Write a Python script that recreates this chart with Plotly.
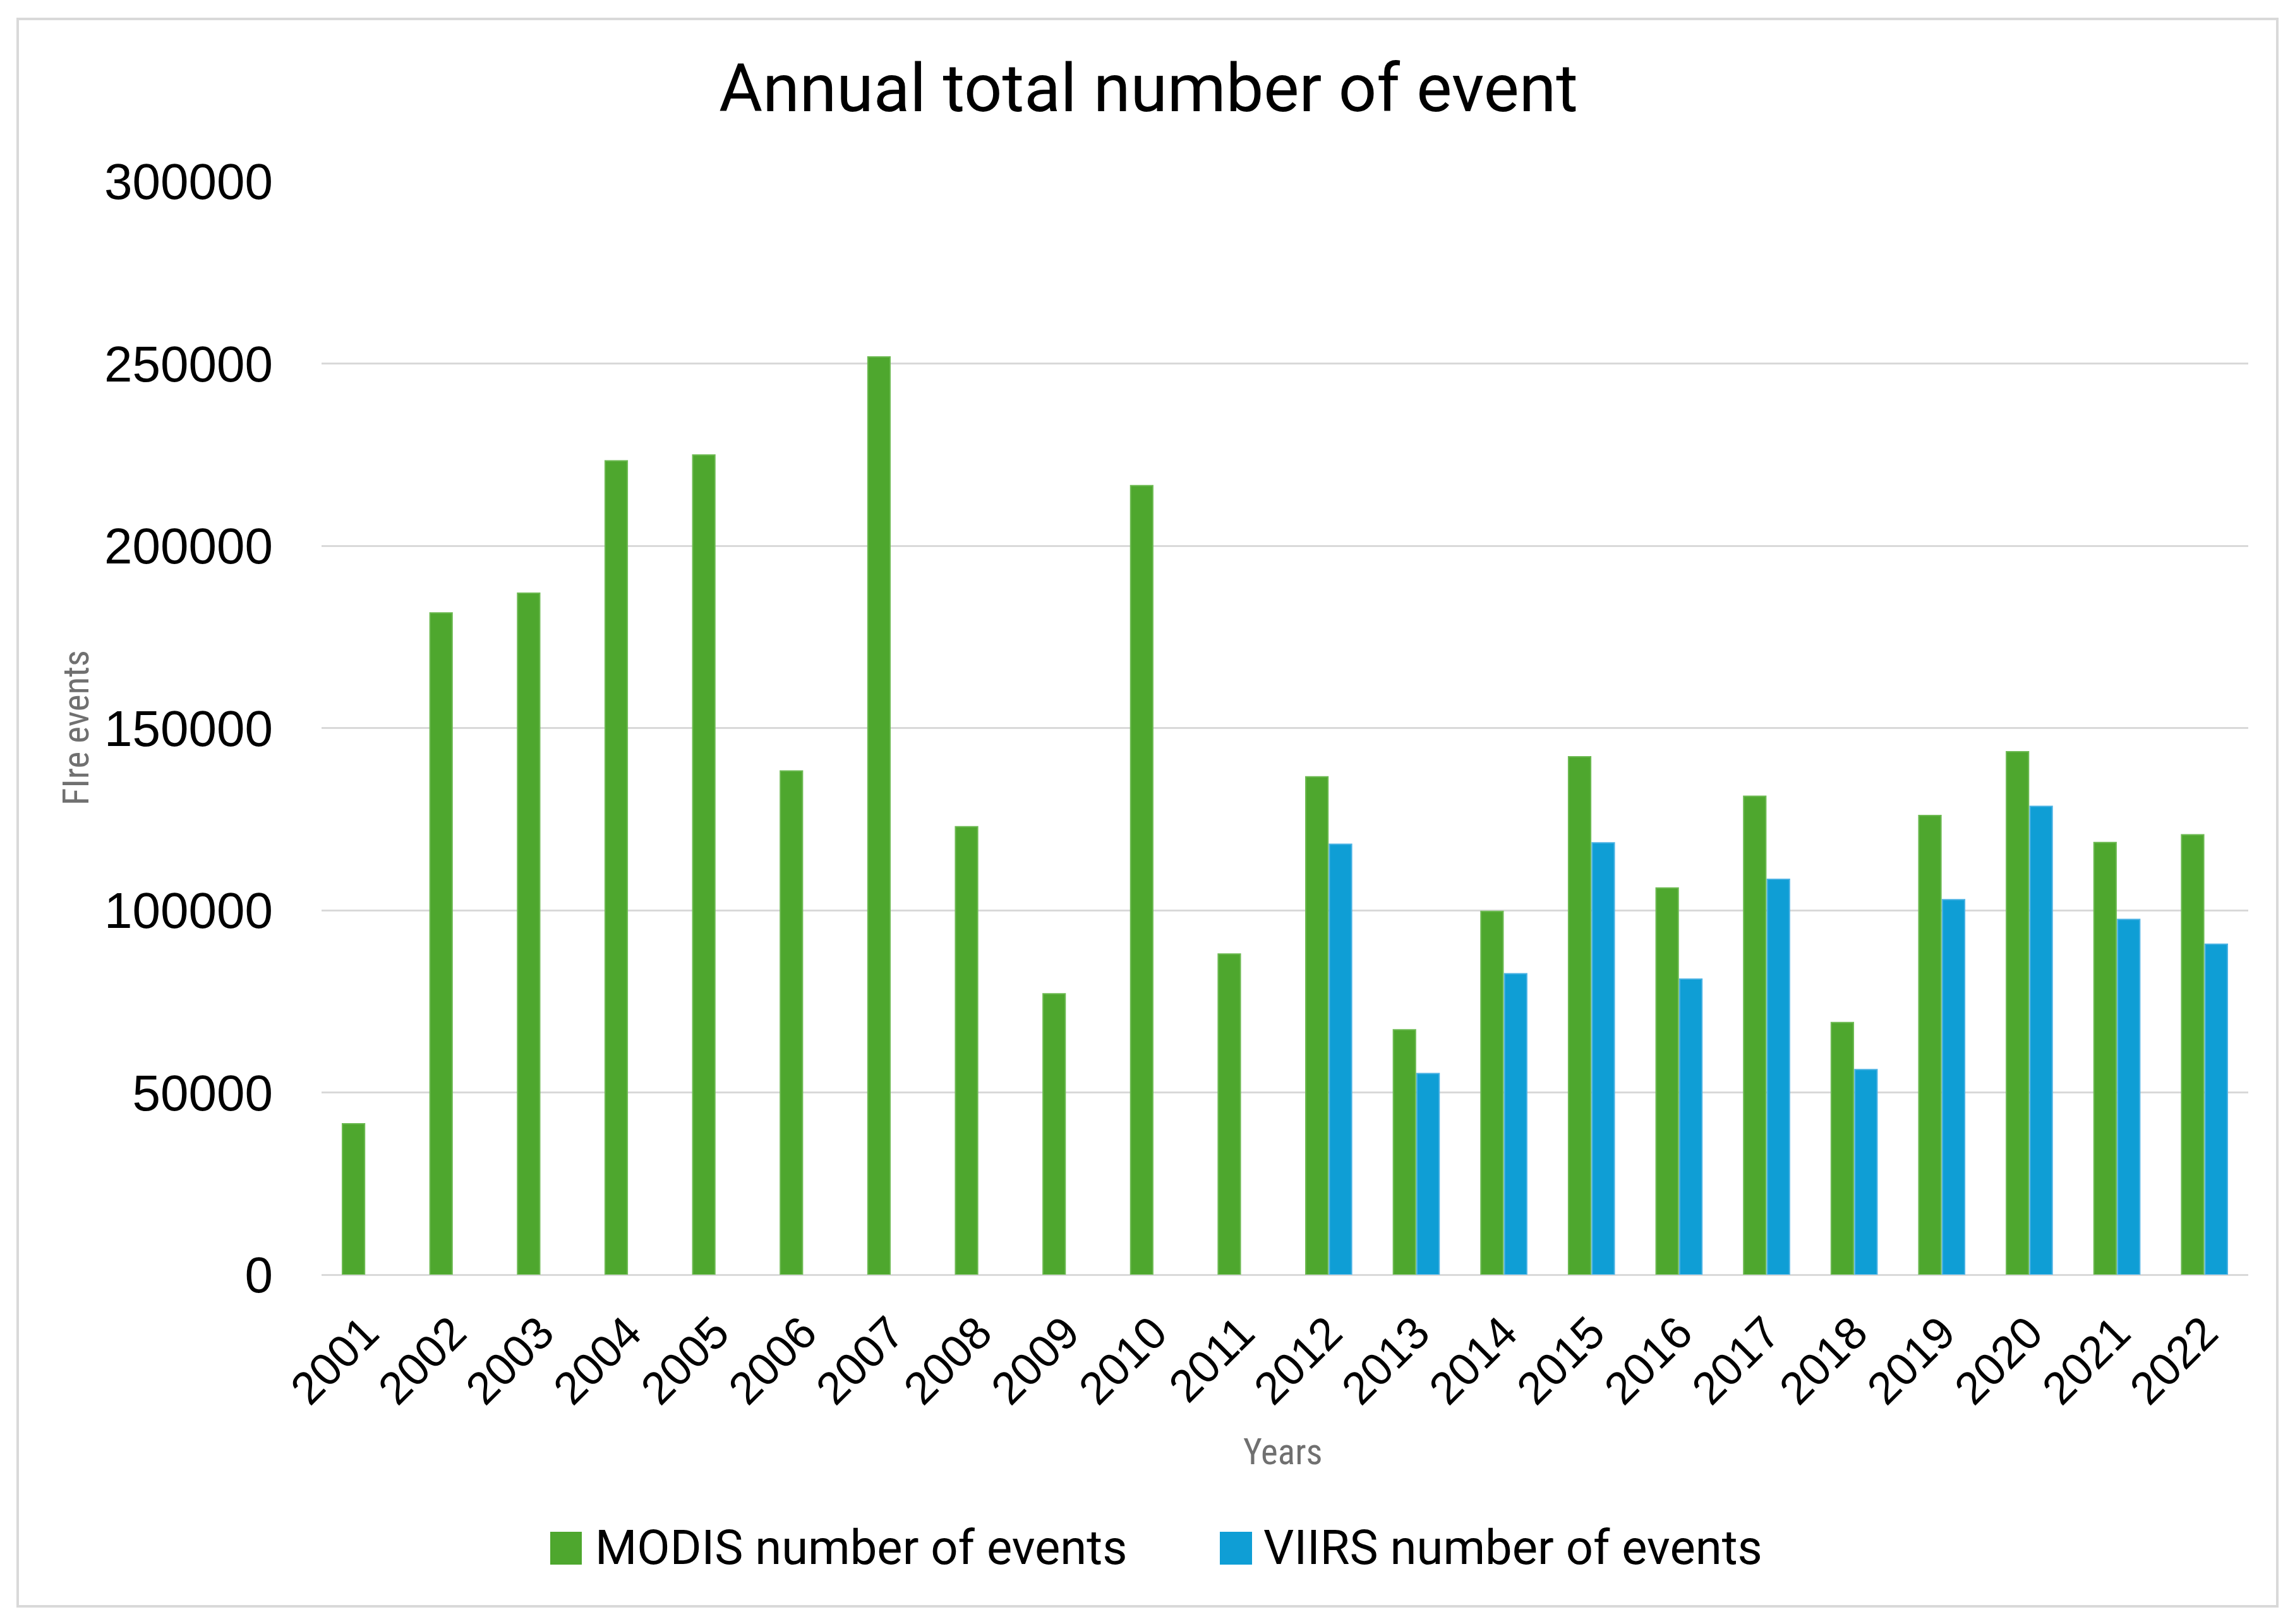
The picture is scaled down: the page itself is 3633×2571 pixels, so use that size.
import plotly.graph_objects as go

years = [str(y) for y in range(2001, 2023)]
modis = [41400, 181600, 187000, 223300, 224900, 138200, 251800, 122900, 77100, 216500, 88000,
         136600, 67200, 99700, 142100, 106100, 131300, 69200, 126000, 143500, 118600, 120700]
viirs = [None, None, None, None, None, None, None, None, None, None, None,
         118100, 55200, 82600, 118500, 81100, 108500, 56300, 102900, 128500, 97500, 90700]
series_names = ["MODIS number of events", "VIIRS number of events"]
y_ticks = [0, 50000, 100000, 150000, 200000, 250000, 300000]

W, H = 3633, 2571
L, R, T, B = 509, 3559, 287, 2018

def px(x):
    return (x - L) / (R - L)

def py(y):
    return (B - y) / (B - T)

GREEN = "#4EA72E"
BLUE = "#0F9ED5"

fig = go.Figure()
fig.add_trace(go.Bar(x=years, y=modis, name=series_names[0],
                     marker=dict(color=GREEN, line=dict(color="#6DBA52", width=2)),
                     showlegend=False))
fig.add_trace(go.Bar(x=years, y=viirs, name=series_names[1],
                     marker=dict(color=BLUE, line=dict(color="#4BB2E4", width=2)),
                     showlegend=False))

shapes = [
    dict(type="rect", xref="paper", yref="paper",
         x0=px(28), x1=px(3605), y0=py(2543), y1=py(30),
         line=dict(color="#D9D9D9", width=4), fillcolor="rgba(0,0,0,0)", layer="below"),
    dict(type="rect", xref="paper", yref="paper",
         x0=px(871), x1=px(921), y0=py(2477), y1=py(2425),
         line=dict(width=0), fillcolor=GREEN),
    dict(type="rect", xref="paper", yref="paper",
         x0=px(1931), x1=px(1982), y0=py(2477), y1=py(2425),
         line=dict(width=0), fillcolor=BLUE),
]

annotations = [
    dict(text="Annual total number of event", xref="paper", yref="paper",
         x=px(1818), y=py(140), xanchor="center", yanchor="middle", showarrow=False,
         font=dict(family="Roboto", size=106, color="#000000")),
    dict(text=series_names[0], xref="paper", yref="paper",
         x=px(940), y=py(2450), xanchor="left", yanchor="middle", showarrow=False,
         font=dict(family="Roboto", size=76, color="#000000")),
    dict(text=series_names[1], xref="paper", yref="paper",
         x=px(1998), y=py(2450), xanchor="left", yanchor="middle", showarrow=False,
         font=dict(family="Roboto", size=76, color="#000000")),
    dict(text="Years", xref="paper", yref="paper",
         x=px(2031), y=py(2298), xanchor="center", yanchor="middle", showarrow=False,
         font=dict(family="Liberation Sans Narrow, Roboto Condensed, Arial Narrow, sans-serif",
                   size=57, color="#707070")),
    dict(text="FIre events", xref="paper", yref="paper", textangle=-90,
         x=px(120), y=py(1152), xanchor="center", yanchor="middle", showarrow=False,
         font=dict(family="Liberation Sans Narrow, Roboto Condensed, Arial Narrow, sans-serif",
                   size=57, color="#707070")),
]

fig.update_layout(
    width=W, height=H,
    margin=dict(l=L, r=W - R, t=T, b=H - B, pad=0),
    paper_bgcolor="white", plot_bgcolor="white",
    barmode="group", bargap=0.46, bargroupgap=0.06,
    shapes=shapes, annotations=annotations,
    showlegend=False,
    xaxis=dict(type="category", tickangle=-45, showgrid=False, showline=False,
               zeroline=False, ticks="", ticklabelstandoff=34,
               tickfont=dict(family="Liberation Sans, Arial, sans-serif", size=72, color="#000000")),
    yaxis=dict(range=[0, 300000], tickvals=y_ticks, ticktext=[str(v) for v in y_ticks],
               showgrid=True, gridcolor="#D9D9D9", gridwidth=3, zeroline=True,
               zerolinecolor="#D9D9D9", zerolinewidth=3, showline=False, ticks="",
               ticklabelstandoff=76,
               tickfont=dict(family="Liberation Sans, Arial, sans-serif", size=80, color="#000000")),
)

fig.write_html("out.html")
